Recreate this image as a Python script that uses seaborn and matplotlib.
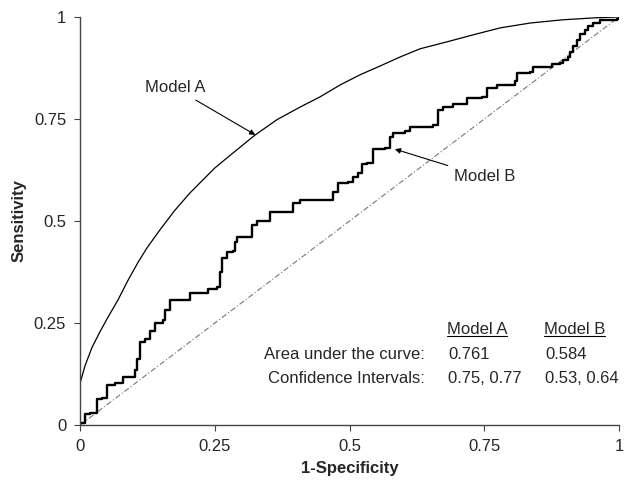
import numpy as np
import pandas as pd
import matplotlib
matplotlib.use("Agg")
import matplotlib.pyplot as plt
import seaborn as sns

# Model A ROC curve (smooth)
model_a_fpr = [0, 0.009, 0.022, 0.037, 0.052, 0.07, 0.089, 0.108, 0.124, 0.148, 0.175,
               0.204, 0.25, 0.284, 0.325, 0.365, 0.408, 0.445, 0.482, 0.519, 0.557,
               0.594, 0.631, 0.681, 0.729, 0.779, 0.835, 0.896, 0.959, 1.0]
model_a_tpr = [0.103, 0.145, 0.19, 0.229, 0.265, 0.306, 0.355, 0.4, 0.434, 0.478, 0.525,
               0.569, 0.63, 0.667, 0.711, 0.748, 0.779, 0.804, 0.833, 0.858, 0.88,
               0.902, 0.922, 0.939, 0.956, 0.973, 0.985, 0.993, 0.998, 1.0]

# Model B ROC curve (stepped)
model_b_fpr = [0, 0.009, 0.019, 0.031, 0.04, 0.05, 0.065, 0.08, 0.098, 0.102, 0.106, 0.111,
               0.111, 0.12, 0.13, 0.139, 0.154, 0.158, 0.167, 0.195, 0.204, 0.237, 0.254,
               0.26, 0.263, 0.273, 0.284, 0.288, 0.291, 0.312, 0.319, 0.328, 0.343, 0.353,
               0.39, 0.395, 0.408, 0.464, 0.469, 0.479, 0.497, 0.506, 0.516, 0.523, 0.532,
               0.544, 0.566, 0.575, 0.581, 0.603, 0.612, 0.655, 0.664, 0.673, 0.692, 0.718,
               0.746, 0.755, 0.774, 0.807, 0.811, 0.835, 0.84, 0.872, 0.876, 0.89, 0.896,
               0.905, 0.909, 0.915, 0.922, 0.928, 0.937, 0.942, 0.952, 0.965, 0.996, 1.0]
model_b_tpr = [0.005, 0.027, 0.029, 0.064, 0.066, 0.098, 0.103, 0.118, 0.118, 0.135, 0.162,
               0.165, 0.204, 0.21, 0.23, 0.25, 0.257, 0.282, 0.306, 0.306, 0.323, 0.333,
               0.338, 0.375, 0.409, 0.424, 0.426, 0.449, 0.461, 0.461, 0.49, 0.5, 0.5,
               0.522, 0.522, 0.544, 0.551, 0.551, 0.571, 0.593, 0.596, 0.608, 0.618, 0.64,
               0.642, 0.676, 0.679, 0.706, 0.716, 0.721, 0.73, 0.735, 0.772, 0.779, 0.787,
               0.801, 0.804, 0.826, 0.833, 0.843, 0.863, 0.865, 0.877, 0.877, 0.885, 0.887,
               0.895, 0.902, 0.914, 0.929, 0.944, 0.958, 0.968, 0.978, 0.985, 0.993, 0.995, 1.0]

chance_line = [0, 1]

ticks = [0, 0.25, 0.5, 0.75, 1]
tick_labels = ["0", "0.25", "0.5", "0.75", "1"]

models = ["Model A", "Model B"]
auc = ["0.761", "0.584"]
conf_int = ["0.75, 0.77", "0.53, 0.64"]

FS = 12

sns.set_style("ticks")
plt.rcParams["font.family"] = ["Liberation Sans", "DejaVu Sans"]

fig = plt.figure(figsize=(6.26, 4.83), dpi=100)
ax = fig.add_axes([0.128, 0.12, 0.861, 0.845])

sns.lineplot(x=chance_line, y=chance_line, ax=ax, color="#777777", lw=0.8,
             linestyle=(0, (5, 2, 1, 2)))
sns.lineplot(x=model_a_fpr, y=model_a_tpr, ax=ax, color="black", lw=0.9,
             estimator=None, sort=False)
sns.lineplot(x=model_b_fpr, y=model_b_tpr, ax=ax, color="black", lw=1.7,
             estimator=None, sort=False, drawstyle="steps-post")

ax.set_xlim(0, 1)
ax.set_ylim(0, 1)
ax.set_xticks(ticks)
ax.set_xticklabels(tick_labels)
ax.set_yticks(ticks)
ax.set_yticklabels(tick_labels)
ax.tick_params(labelsize=FS, length=4, width=0.8, color="#444444", pad=6)
sns.despine(ax=ax)
for side in ["left", "bottom"]:
    ax.spines[side].set_color("#444444")
    ax.spines[side].set_linewidth(1.0)

ax.set_xlabel("1-Specificity", fontsize=FS, fontweight="bold", labelpad=5)
ax.set_ylabel("Sensitivity", fontsize=FS, fontweight="bold", labelpad=5)

# curve labels with arrows
ax.annotate("Model A", xy=(0.325, 0.711), xytext=(0.176, 0.826), fontsize=FS,
            ha="center", va="center",
            arrowprops=dict(arrowstyle="-|>", color="black", lw=0.8,
                            shrinkA=2, shrinkB=0, mutation_scale=8))
ax.annotate("Model B", xy=(0.584, 0.676), xytext=(0.75, 0.608), fontsize=FS,
            ha="center", va="center",
            arrowprops=dict(arrowstyle="-|>", color="black", lw=0.8,
                            shrinkA=2, shrinkB=0, mutation_scale=8))

# AUC table
col_x = [0.683, 0.863]
for i, name in enumerate(models):
    ax.text(col_x[i] - 0.003, 0.233, name, fontsize=FS, ha="left", va="center")
    ax.text(col_x[i], 0.174, auc[i], fontsize=FS, ha="left", va="center")
    ax.text(col_x[i], 0.115, conf_int[i], fontsize=FS, ha="left", va="center")

fig.canvas.draw()
renderer = fig.canvas.get_renderer()
for t in list(ax.texts):
    if t.get_text() in models and t.get_position()[1] == 0.233:
        bb = t.get_window_extent(renderer).transformed(ax.transData.inverted())
        ax.plot([bb.x0, bb.x1], [bb.y0 + 0.004, bb.y0 + 0.004], color="black", lw=0.8)

ax.text(0.64, 0.174, "Area under the curve:", fontsize=FS, ha="right", va="center")
ax.text(0.64, 0.115, "Confidence Intervals:", fontsize=FS, ha="right", va="center")

fig.savefig("out.png", dpi=100)
